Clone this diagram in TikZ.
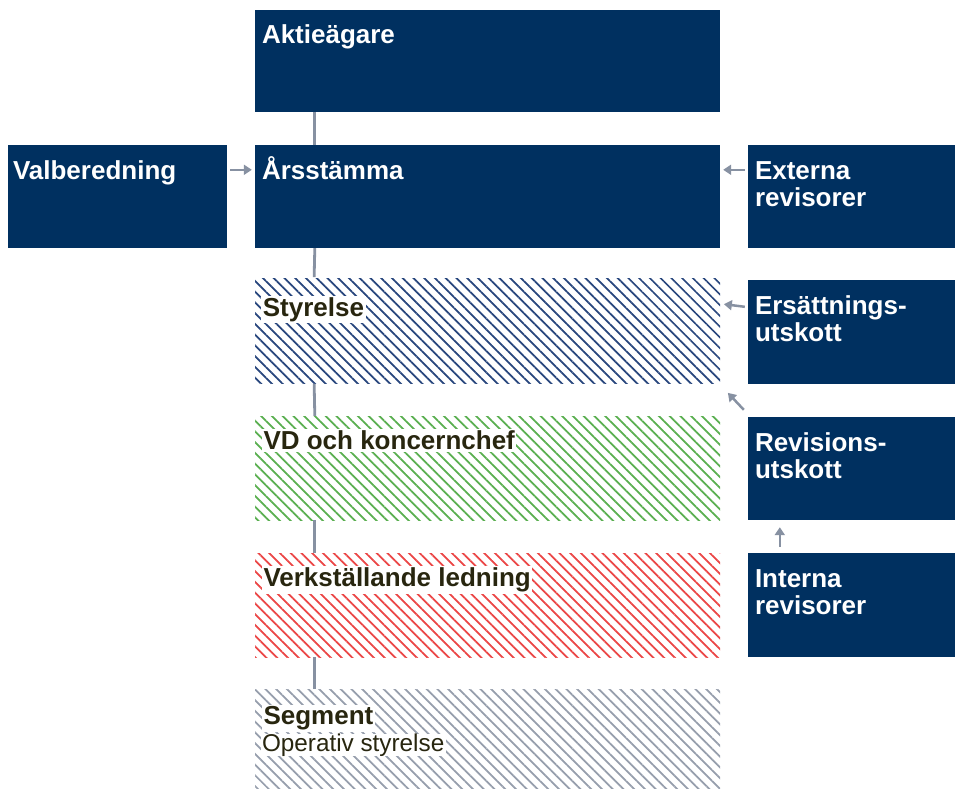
\documentclass[tikz,border=0pt]{standalone}
\usepackage{fontspec}
\setmainfont{Liberation Sans}
\usepackage{xcolor}
\usepackage{tikz}
\usetikzlibrary{arrows.meta, positioning, calc, patterns.meta}

\definecolor{navy}{RGB}{0,48,96}
\definecolor{hblue}{RGB}{40,70,125}
\definecolor{hgreen}{RGB}{90,175,80}
\definecolor{hred}{RGB}{235,70,70}
\definecolor{hgrey}{RGB}{150,158,172}
\definecolor{linegrey}{RGB}{135,145,162}
\definecolor{darktext}{RGB}{40,38,15}

\begin{document}
\begin{tikzpicture}[x=1pt,y=1pt,
				navybox/.style={rectangle,fill=navy,inner sep=0pt,minimum height=103pt},
				hatch/.style={rectangle,inner sep=0pt,minimum width=465pt,minimum height=104pt,
					pattern={Lines[angle=-45,distance=7.6pt,line width=1.7pt]}},
				wtxt/.style={anchor=base west,inner sep=0pt,text=white,align=left,
					font=\fontsize{26}{26.5}\selectfont\bfseries},
				dtxt/.style={anchor=base west,inner sep=1.5pt,fill=white,text=darktext,
					font=\fontsize{26}{26}\selectfont\bfseries},
				conn/.style={draw=linegrey,line width=2.8pt},
				arrow/.style={draw=linegrey,line width=2.5pt,-{Triangle[length=8pt,width=10pt]}},
				]
				\useasboundingbox (0,0) rectangle (955,-789);
				% main column
				\node[navybox,minimum width=465pt,minimum height=102pt] (akt) at (487.5,-61) {};
				\node[navybox,minimum width=465pt] (ars) at (487.5,-196.5) {};
				\node[hatch,pattern color=hblue,minimum height=105pt] (sty) at (487.5,-330.5) {};
				\node[hatch,pattern color=hgreen] (vd) at (487.5,-468) {};
				\node[hatch,pattern color=hred] (vl) at (487.5,-605) {};
				\node[hatch,pattern color=hgrey,minimum height=110pt] (seg) at (487.5,-744) {};
				% side boxes
				\node[navybox,minimum width=219pt] (val) at (117.5,-196.5) {};
				\node[navybox,minimum width=210pt] (ext) at (853,-196.5) {};
				\node[navybox,minimum width=210pt,minimum height=104pt] (ers) at (853,-332) {};
				\node[navybox,minimum width=210pt] (rev) at (853,-468.5) {};
				\node[navybox,minimum width=210pt,minimum height=104pt] (int) at (853,-605) {};
				
				% texts (base of two-line texts is their last line)
				\node[wtxt] (akt-t) at ([shift={(7,-34)}]akt.north west) {Aktieägare};
				\node[wtxt] (ars-t) at ([shift={(7,-35)}]ars.north west) {Årsstämma};
				\node[wtxt] (val-t) at ([shift={(5,-35)}]val.north west) {Valberedning};
				\node[wtxt] (ext-t) at ([shift={(7,-61.5)}]ext.north west) {Externa\\revisorer};
				\node[wtxt] (ers-t) at ([shift={(7,-61.5)}]ers.north west) {Ersättnings-\\utskott};
				\node[wtxt] (rev-t) at ([shift={(7,-61.5)}]rev.north west) {Revisions-\\utskott};
				\node[wtxt] (int-t) at ([shift={(7,-61.5)}]int.north west) {Interna\\revisorer};
				\node[dtxt] (sty-t) at ([shift={(7,-39)}]sty.north west) {Styrelse};
				\node[dtxt] (vd-t) at ([shift={(7,-34)}]vd.north west) {VD och koncernchef};
				\node[dtxt] (vl-t) at ([shift={(7,-34)}]vl.north west) {Verkställande ledning};
				\node[dtxt] (seg-t) at ([shift={(7,-36)}]seg.north west) {Segment};
				\node[dtxt,font=\fontsize{24.3}{26}\selectfont,anchor=north west,inner ysep=0pt]
					(seg-s) at ([shift={(-1.5,-1.5)}]seg-t.south west) {Operativ styrelse};
				
				% connectors
				\draw[conn] ([xshift=60pt]akt.south west) -- ([xshift=60pt]ars.north west);
				\draw[conn] ([xshift=60pt]ars.south west) -- ([xshift=60pt]sty.north west);
				\draw[conn] ([xshift=60pt]sty.south west) -- ([xshift=60pt]vd.north west);
				\draw[conn] ([xshift=60pt]vd.south west) -- ([xshift=60pt]vl.north west);
				\draw[conn] ([xshift=60pt]vl.south west) -- ([xshift=60pt]seg.north west);
				\draw[arrow] ([shift={(3,-25)}]val.north east) -- ([shift={(-3,-25)}]ars.north west);
				\draw[arrow] ([shift={(-3,-25)}]ext.north west) -- ([shift={(3,-25)}]ars.north east);
				\draw[arrow] ([shift={(-3,-27)}]ers.north west) -- ([shift={(3,-27)}]sty.north east);
				\draw[arrow] ([shift={(-4,7)}]rev.north west) -- ([shift={(7,-9)}]sty.south east);
				\draw[arrow] ([shift={(32,6)}]int.north west) -- ([shift={(32,-7)}]rev.south west);
			\end{tikzpicture}
\end{document}
